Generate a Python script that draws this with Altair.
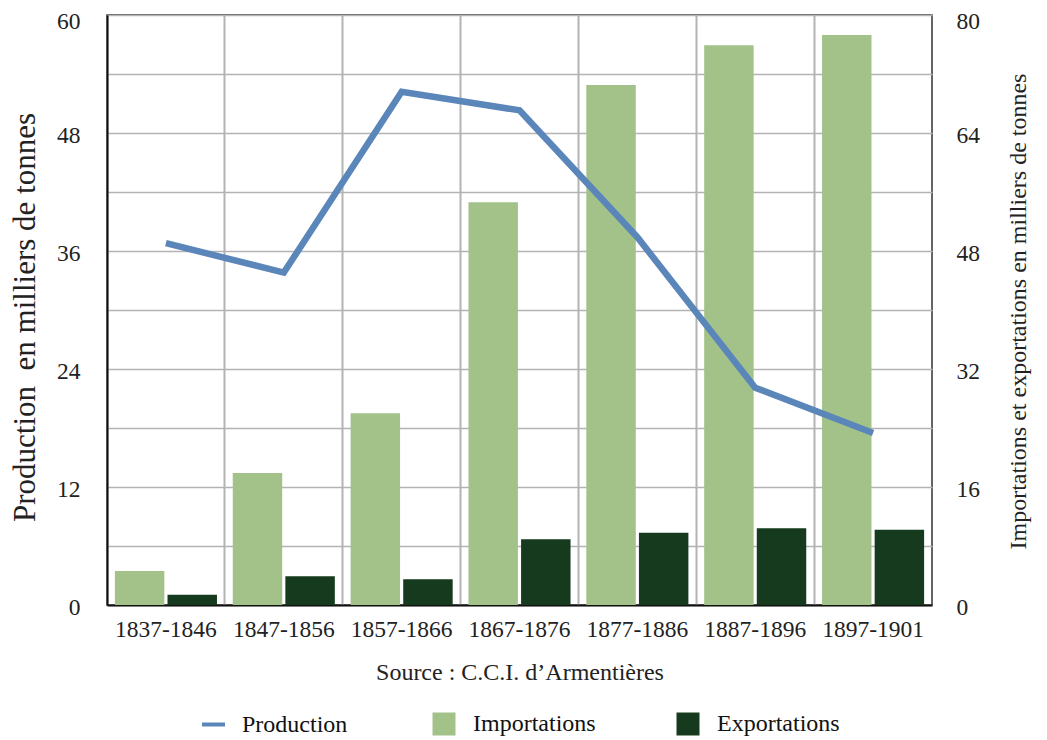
import altair as alt
import pandas as pd

periods = ["1837-1846", "1847-1856", "1857-1866", "1867-1876", "1877-1886", "1887-1896", "1897-1901"]
production = [36.8, 33.8, 52.2, 50.3, 37.4, 22.1, 17.5]
importations = [4.6, 17.9, 26.0, 54.6, 70.5, 75.9, 77.3]
exportations = [1.4, 3.9, 3.5, 8.9, 9.8, 10.4, 10.2]

bar_series = ["Importations", "Exportations"]
bar_colors = ["#a3c28a", "#153a1e"]
line_series = ["Production"]
line_colors = ["#5b86b9"]

left_ticks = [0, 6, 12, 18, 24, 30, 36, 42, 48, 54, 60]
right_ticks = [0, 16, 32, 48, 64, 80]

FONT = "Liberation Serif"

line_df = pd.DataFrame({"period": periods, "value": production, "series": "Production"})
bar_df = pd.concat([
    pd.DataFrame({"period": periods, "value": importations, "series": "Importations"}),
    pd.DataFrame({"period": periods, "value": exportations, "series": "Exportations"}),
])

x_enc = alt.X(
    "period:N", sort=periods,
    scale=alt.Scale(paddingInner=0, paddingOuter=0),
    axis=alt.Axis(
        title="Source : C.C.I. d\u2019Armentières",
        labelAngle=0, labelFontSize=23.5, labelPadding=12, labelColor="#222",
        titleFontSize=24, titleFontWeight="normal", titlePadding=20, titleColor="#222",
        grid=True, bandPosition=0, gridColor="#b3b3b3", gridWidth=2,
        ticks=False, domainColor="#111", domainWidth=2,
    ),
)

bars = alt.Chart(bar_df).mark_bar().encode(
    x=x_enc,
    xOffset=alt.XOffset("series:N", sort=bar_series,
                        scale=alt.Scale(paddingInner=0.06, paddingOuter=0.15)),
    y=alt.Y(
        "value:Q",
        scale=alt.Scale(domain=[0, 80], nice=False),
        axis=alt.Axis(
            orient="right", values=right_ticks, grid=False, ticks=False, domain=False,
            labelFontSize=23.5, labelPadding=24, labelColor="#222",
            labelOffset={"condition": {"test": "datum.value === 80", "value": 6}, "value": 2},
            title="Importations et exportations en milliers de tonnes",
            titleFontSize=24, titleFontWeight="normal", titleAngle=-90, titleColor="#222",
            titleX=86, titleY=296, titleAlign="center", titleBaseline="middle",
        ),
    ),
    fill=alt.Fill(
        "series:N", sort=bar_series,
        scale=alt.Scale(domain=bar_series, range=bar_colors),
        legend=alt.Legend(
            title=None, orient="none", direction="horizontal", columns=2,
            legendX=325, legendY=697, columnPadding=80,
            symbolType="square", symbolSize=529, symbolStrokeWidth=0,
            labelFontSize=24, labelOffset=17, labelColor="#111", labelFont=FONT,
        ),
    ),
)

line = alt.Chart(line_df).mark_line(strokeWidth=6.5, strokeCap="butt", strokeJoin="miter").encode(
    x=x_enc,
    y=alt.Y(
        "value:Q",
        scale=alt.Scale(domain=[0, 60], nice=False),
        axis=alt.Axis(
            orient="left", values=left_ticks, grid=True, gridColor="#b3b3b3", gridWidth=1.6,
            labelExpr="datum.value % 12 === 0 ? datum.label : ''",
            ticks=False, domainColor="#111", domainWidth=2,
            labelFontSize=23.5, labelPadding=27, labelColor="#222",
            labelOffset={"condition": {"test": "datum.value === 60", "value": 6}, "value": 2},
            title="Production\u00a0 en milliers de tonnes",
            titleFontSize=31, titleFontWeight="normal", titleAngle=-90, titleColor="#222",
            titleX=-82, titleY=302, titleAlign="center", titleBaseline="middle",
        ),
    ),
    stroke=alt.Stroke(
        "series:N",
        scale=alt.Scale(domain=line_series, range=line_colors),
        legend=alt.Legend(
            title=None, orient="none", direction="horizontal",
            legendX=93, legendY=696,
            symbolType="stroke", symbolSize=529, symbolStrokeWidth=4,
            labelFontSize=24, labelOffset=15, labelColor="#111", labelFont=FONT,
        ),
    ),
)

chart = alt.layer(bars, line).resolve_scale(y="independent").properties(
    width=825, height=590,
    autosize=alt.AutoSizeParams(type="none"),
    padding={"left": 99, "top": 7, "right": 100, "bottom": 133},
).configure(
    font=FONT,
).configure_view(
    stroke="#333", strokeWidth=1.5,
).configure_axis(
    labelFont=FONT, titleFont=FONT,
).configure_legend(
    labelFont=FONT, padding=0,
)

chart.save("out.html", embed_options={"renderer": "svg", "actions": False})
